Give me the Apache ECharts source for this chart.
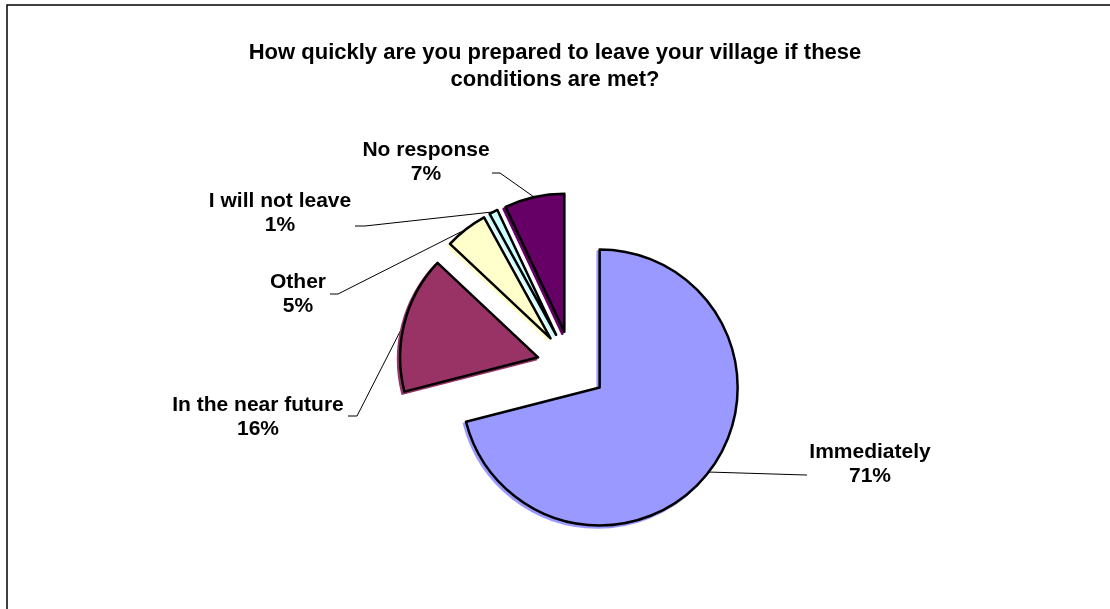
<!DOCTYPE html>
<html>
<head>
<meta charset="utf-8">
<script src="https://cdn.jsdelivr.net/npm/echarts@6/dist/echarts.min.js"></script>
<style>
  html, body { margin: 0; padding: 0; background: #ffffff; }
  #chart { width: 1110px; height: 609px; }
</style>
</head>
<body>
<div id="chart"></div>
<script>
// Survey answers, in the order the slices run clockwise from 12 o'clock
const categories = ['Immediately', 'In the near future', 'Other', 'I will not leave', 'No response'];
const shares = [71, 16, 5, 1, 7];
const sliceColors = ['#9999FF', '#993366', '#FFFFCC', '#CCFFFF', '#660066'];

// Where each label block sits and how its leader line bends on the way to the slice
const labelSpots = [
  { x: 870, y: 464, bend: [806, 475], end: [807, 475] },
  { x: 258, y: 417, bend: [357, 416], end: [348, 416] },
  { x: 298, y: 294, bend: [338, 294], end: [330, 294] },
  { x: 280, y: 213, bend: [365, 226], end: [355, 226] },
  { x: 426, y: 162, bend: [500, 173], end: [492, 173] }
];

const FONT = '"Liberation Sans", Arial, Helvetica, sans-serif';
const PIE_CENTER = [572, 366];
const PIE_RADIUS = 138;
const EXPLODE = 35;

const chart = echarts.init(document.getElementById('chart'), null, { renderer: 'canvas' });

const total = shares.reduce((a, b) => a + b, 0);

// Every slice is pulled out from the common centre along its own bisector.
// Each slice gets its own pie series (same data, only that slice visible),
// whose centre is shifted by the explode distance.
let cumulative = 0;
const pieSeries = categories.map((name, k) => {
  const midDeg = 360 * (cumulative + shares[k] / 2) / total;
  cumulative += shares[k];
  const rad = midDeg * Math.PI / 180;
  const center = [
    PIE_CENTER[0] + EXPLODE * Math.sin(rad),
    PIE_CENTER[1] - EXPLODE * Math.cos(rad)
  ];
  const data = categories.map((n, i) => {
    const visible = i === k;
    return {
      name: n,
      value: shares[i],
      itemStyle: visible
        ? {
            color: sliceColors[i],
            borderColor: '#000000',
            borderWidth: 2.5,
            shadowColor: sliceColors[i],
            shadowBlur: 0,
            shadowOffsetX: -2,
            shadowOffsetY: 2
          }
        : { color: 'rgba(0,0,0,0)', borderWidth: 0 },
      label: { show: visible },
      labelLine: { show: visible }
    };
  });
  return {
    type: 'pie',
    name: name,
    center: center,
    radius: PIE_RADIUS,
    startAngle: 90,
    clockwise: true,
    avoidLabelOverlap: false,
    silent: true,
    emphasis: { disabled: true },
    label: {
      position: 'outside',
      formatter: p => p.name + '\n' + p.value + '%',
      fontFamily: FONT,
      fontSize: 21,
      fontWeight: 'bold',
      color: '#000000',
      lineHeight: 24,
      align: 'center'
    },
    labelLine: {
      length: 20,
      length2: 10,
      lineStyle: { color: '#000000', width: 1 }
    },
    labelLayout: function (params) {
      const spot = labelSpots[params.dataIndex];
      const pts = params.labelLinePoints;
      return {
        x: spot.x,
        y: spot.y,
        align: 'center',
        verticalAlign: 'middle',
        labelLinePoints: pts ? [pts[0], spot.bend, spot.end] : undefined
      };
    },
    data: data
  };
});

chart.setOption({
  backgroundColor: '#ffffff',
  animation: false,
  title: {
    text: 'How quickly are you prepared to leave your village if these\nconditions are met?',
    left: 'center',
    top: 34,
    textStyle: {
      fontFamily: FONT,
      fontSize: 22,
      fontWeight: 'bold',
      color: '#000000',
      lineHeight: 27
    }
  },
  graphic: [{
    type: 'rect',
    silent: true,
    shape: { x: 7, y: 5, width: 1200, height: 700 },
    style: { fill: 'none', stroke: '#000000', lineWidth: 1.5 }
  }],
  series: pieSeries
});
</script>
</body>
</html>
